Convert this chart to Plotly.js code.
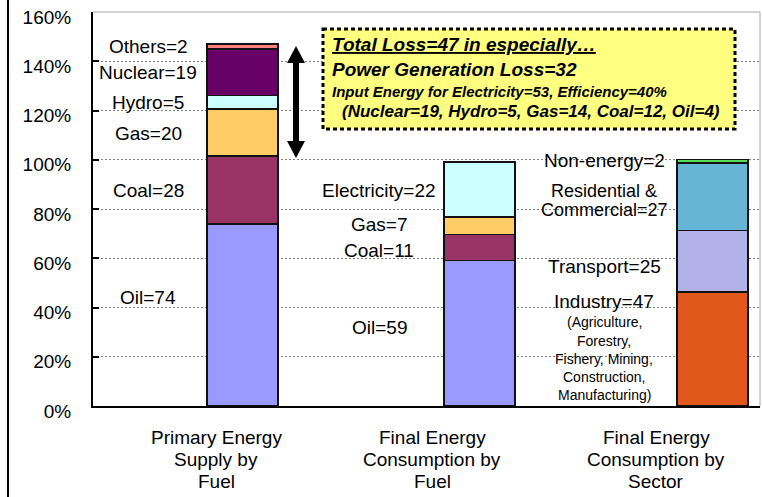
<!DOCTYPE html>
<html>
<head>
<meta charset="utf-8">
<script src="https://cdn.plot.ly/plotly-3.0.1.min.js"></script>
<style>
  html, body { margin: 0; padding: 0; background: #ffffff; }
  #chart { width: 762px; height: 497px; }
</style>
</head>
<body>
<div id="chart"></div>
<script>
// ---- data ----
const categories = ['Primary Energy Supply by Fuel', 'Final Energy Consumption by Fuel', 'Final Energy Consumption by Sector'];
const categoryLabelLines = [
  ['Primary Energy', 'Supply by', 'Fuel'],
  ['Final Energy', 'Consumption by', 'Fuel'],
  ['Final Energy', 'Consumption by', 'Sector']
];
const yTickValues = [0, 20, 40, 60, 80, 100, 120, 140, 160];
const yTickLabels = ['0%', '20%', '40%', '60%', '80%', '100%', '120%', '140%', '160%'];

const oil         = [74, 59, null];
const coal        = [27.6, 10.7, null];
const gas         = [19, 7, null];
const hydro       = [5.5, null, null];
const electricity = [null, 22.4, null];
const nuclear     = [18.8, null, null];
const others      = [2.1, null, null];
const industry    = [null, null, 46.3];
const transport   = [null, null, 25];
const residential = [null, null, 27.3];
const nonEnergy   = [null, null, 1.6];

const primaryLabels = ['Others=2', 'Nuclear=19', 'Hydro=5', 'Gas=20', 'Coal=28', 'Oil=74'];
const finalFuelLabels = ['Electricity=22', 'Gas=7', 'Coal=11', 'Oil=59'];
const sectorLabels = ['Non-energy=2', 'Residential &', 'Commercial=27', 'Transport=25', 'Industry=47'];
const industryDetail = ['(Agriculture,', 'Forestry,', 'Fishery, Mining,', 'Construction,', 'Manufacturing)'];
const boxTitle = 'Total Loss=47 in especially…';
const boxLine2 = 'Power Generation Loss=32';
const boxLine3 = 'Input Energy for Electricity=53, Efficiency=40%';
const boxLine4 = '(Nuclear=19, Hydro=5, Gas=14, Coal=12, Oil=4)';

// ---- styling / layout helpers ----
const FONT = '"Liberation Sans", Arial, sans-serif';
const W = 762, H = 497;
const M = {l: 93, r: 2, t: 12, b: 91};
const PW = W - M.l - M.r, PH = H - M.t - M.b;
const px = x => (x - M.l) / PW;
const py = y => (H - M.b - y) / PH;

const barOffset = [0.0126, 0.0787, 0.127];
const barWidth = 0.319;

function barTrace(name, values, color) {
  return {
    type: 'bar', name: name, x: categories, y: values,
    width: barWidth, offset: barOffset,
    marker: {color: color, line: {color: '#111111', width: 1.5}},
    hoverinfo: 'skip'
  };
}

const traces = [
  barTrace('Oil', oil, '#9999FF'),
  barTrace('Coal', coal, '#993366'),
  barTrace('Gas', gas, '#FFCC66'),
  barTrace('Hydro', hydro, '#CCFFFF'),
  barTrace('Electricity', electricity, '#CCFFFF'),
  barTrace('Nuclear', nuclear, '#660066'),
  barTrace('Others', others, '#FF8080'),
  barTrace('Industry', industry, '#E0581C'),
  barTrace('Transport', transport, '#B2B2E8'),
  barTrace('Residential & Commercial', residential, '#66B5D4'),
  barTrace('Non-energy', nonEnergy, '#55DD55')
];

function ann(text, x, y, size, extra) {
  return Object.assign({
    text: text, xref: 'paper', yref: 'paper', x: px(x), y: py(y),
    xanchor: 'center', yanchor: 'middle', showarrow: false,
    font: {family: FONT, size: size, color: '#000000'}
  }, extra || {});
}

const annotations = [];
// primary column labels
const primaryY = [46, 72.7, 103, 133, 190, 297];
primaryLabels.forEach((t, i) => annotations.push(ann(t, 148, primaryY[i], 19)));
// final fuel labels
const finalY = [190.7, 224.3, 250.7, 327.3];
finalFuelLabels.forEach((t, i) => annotations.push(ann(t, 379, finalY[i], 19)));
// sector labels
const sectorY = [160.7, 190.7, 210, 266, 301.7];
const sectorSize = [19, 18, 18, 19, 19];
sectorLabels.forEach((t, i) => annotations.push(ann(t, 604, sectorY[i], sectorSize[i])));
industryDetail.forEach((t, i) => annotations.push(ann(t, 604, 322.3 + i * 18.2, 14)));
// category labels
const catX = [216, 432, 656];
categoryLabelLines.forEach((lines, c) => {
  lines.forEach((t, j) => annotations.push(ann(t, catX[c], 437 + j * 22, 19)));
});
// yellow box text
const bold = (s, extra) => Object.assign({family: FONT, size: s, color: '#000000', weight: 'bold', style: 'italic'}, extra || {});
annotations.push(ann(boxTitle, 330, 45, 19, {xanchor: 'left', font: bold(19, {lineposition: 'under'})}));
annotations.push(ann(boxLine2, 330, 69, 19, {xanchor: 'left', font: bold(19)}));
annotations.push(ann(boxLine3, 330, 91, 15, {xanchor: 'left', font: bold(15)}));
annotations.push(ann(boxLine4, 340, 111, 17, {xanchor: 'left', font: bold(17)}));

// arrow path (pixel coords converted to paper)
const arrowPts = [[296,46],[305,63],[299,63],[299,141],[305,141],[296,158],[287,141],[293,141],[293,63],[287,63]];
const arrowPath = 'M ' + arrowPts.map(p => px(p[0]) + ',' + py(p[1])).join(' L ') + ' Z';

const shapes = [
  // plot top & right borders
  {type: 'line', xref: 'paper', yref: 'paper', x0: 0, x1: 1, y0: 1, y1: 1, line: {color: '#a6a6a6', width: 1}},
  {type: 'line', xref: 'paper', yref: 'paper', x0: 1, x1: 1, y0: 0, y1: 1, line: {color: '#a6a6a6', width: 1}},
  // outer left frame line
  {type: 'line', xref: 'paper', yref: 'paper', x0: px(8), x1: px(8), y0: py(0), y1: py(497), line: {color: '#000000', width: 2}},
  // yellow note box
  {type: 'rect', xref: 'paper', yref: 'paper', x0: px(323), x1: px(735), y0: py(29), y1: py(129),
   fillcolor: '#FFFF80', line: {color: '#000000', width: 3, dash: '4px,3px'}},
  // double arrow
  {type: 'path', xref: 'paper', yref: 'paper', path: arrowPath, fillcolor: '#000000', line: {color: '#000000', width: 0}}
];

const layout = {
  width: W, height: H,
  margin: {l: M.l, r: M.r, t: M.t, b: M.b, pad: 0},
  paper_bgcolor: '#ffffff', plot_bgcolor: '#ffffff',
  showlegend: false, barmode: 'stack',
  font: {family: FONT, color: '#000000'},
  xaxis: {
    type: 'category', range: [-0.5, 2.5], showticklabels: false, ticks: '',
    showgrid: false, zeroline: false, showline: true, linecolor: '#000000', linewidth: 2,
    fixedrange: true
  },
  yaxis: {
    range: [0, 160], tickmode: 'array', tickvals: yTickValues, ticktext: yTickLabels,
    showline: true, linecolor: '#000000', linewidth: 2,
    ticks: 'inside', ticklen: 6, tickwidth: 2, tickcolor: '#000000',
    showgrid: true, gridcolor: '#7f7f7f', gridwidth: 1, griddash: '2px,2px',
    zeroline: false, tickfont: {family: FONT, size: 19, color: '#000000'},
    ticklabelstandoff: 16, ticklabelshift: 5, ticklabeloverflow: 'allow', fixedrange: true
  },
  shapes: shapes,
  annotations: annotations
};

Plotly.newPlot('chart', traces, layout, {displayModeBar: false, staticPlot: true});
</script>
</body>
</html>
